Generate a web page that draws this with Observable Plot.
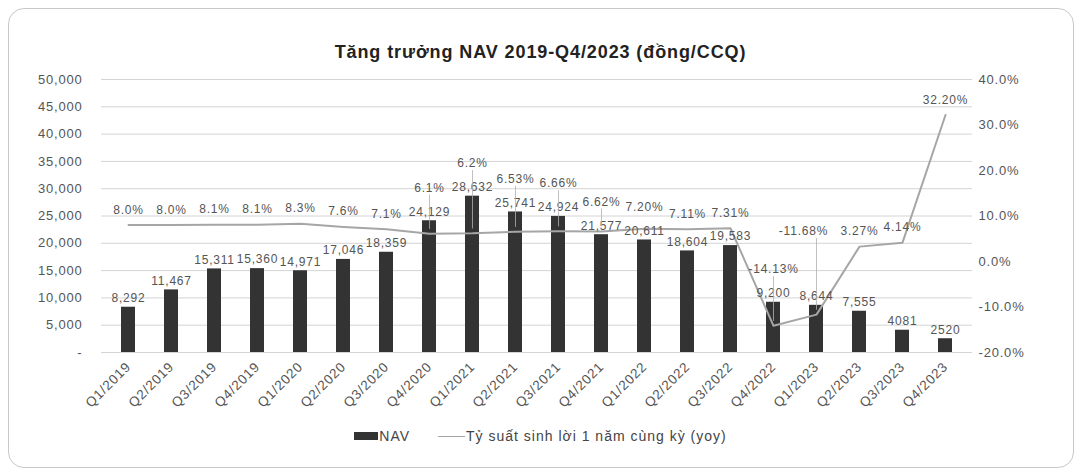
<!DOCTYPE html>
<html>
<head>
<meta charset="utf-8">
<script src="https://cdn.jsdelivr.net/npm/d3@7"></script>
<script src="https://cdn.jsdelivr.net/npm/@observablehq/plot@0.6"></script>
<style>
  body { margin: 0; background: #fff; font-family: "Liberation Sans", Arial, sans-serif; }
  #frame { position: absolute; left: 8px; top: 8px; width: 1064px; height: 458px; border: 1px solid #c8c8c8; border-radius: 16px; }
  #title { position: absolute; left: 0; top: 42px; width: 1081px; text-align: center; font-weight: bold; font-size: 18px; letter-spacing: 0.9px; color: #222; }
  #chart { position: absolute; left: 0; top: 60px; }
  #legend { position: absolute; left: 0; top: 428px; width: 1081px; display: flex; justify-content: center; align-items: center; font-size: 14px; color: #444; letter-spacing: 1px; }
  .sw-bar { display: inline-block; width: 24px; height: 8px; background: #333; margin-right: 1px; }
  .sw-line { display: inline-block; width: 27px; height: 0; border-top: 1.5px solid #a6a6a6; margin: 0 1px 0 28px; }
</style>
</head>
<body>
<div id="frame"></div>
<div id="title">Tăng trưởng NAV 2019-Q4/2023 (đồng/CCQ)</div>
<div id="chart"></div>
<div id="legend"><span class="sw-bar"></span><span>NAV</span><span class="sw-line"></span><span>Tỷ suất sinh lời 1 năm cùng kỳ (yoy)</span></div>
<script>
const quarters = ["Q1/2019","Q2/2019","Q3/2019","Q4/2019","Q1/2020","Q2/2020","Q3/2020","Q4/2020",
  "Q1/2021","Q2/2021","Q3/2021","Q4/2021","Q1/2022","Q2/2022","Q3/2022","Q4/2022",
  "Q1/2023","Q2/2023","Q3/2023","Q4/2023"];
const nav = [8292, 11467, 15311, 15360, 14971, 17046, 18359, 24129,
  28632, 25741, 24924, 21577, 20611, 18604, 19583, 9200,
  8644, 7555, 4081, 2520];
const navLabels = ["8,292","11,467","15,311","15,360","14,971","17,046","18,359","24,129",
  "28,632","25,741","24,924","21,577","20,611","18,604","19,583","9,200",
  "8,644","7,555","4081","2520"];
const yoy = [8.0, 8.0, 8.1, 8.1, 8.3, 7.6, 7.1, 6.1,
  6.2, 6.53, 6.66, 6.62, 7.20, 7.11, 7.31, -14.13,
  -11.68, 3.27, 4.14, 32.20];
const yoyLabels = ["8.0%","8.0%","8.1%","8.1%","8.3%","7.6%","7.1%","6.1%",
  "6.2%","6.53%","6.66%","6.62%","7.20%","7.11%","7.31%","-14.13%",
  "-11.68%","3.27%","4.14%","32.20%"];
const leftTicks = [0, 5000, 10000, 15000, 20000, 25000, 30000, 35000, 40000, 45000, 50000];
const rightTicks = [-20, -10, 0, 10, 20, 30, 40];

// map the right (percent) axis onto the left (NAV) scale
const yMin = -20, yMax = 40, navMax = 50000;
const toNav = v => (v - yMin) / (yMax - yMin) * navMax;
const fromNav = n => n / navMax * (yMax - yMin) + yMin;

// label placement: above the line point, and clear of the bar's own label
const data = quarters.map((q, i) => {
  const yv = toNav(yoy[i]);
  return { q, nav: nav[i], yv, navLabel: navLabels[i], yoyLabel: yoyLabels[i],
           ly: Math.max(yv + 2800, nav[i] + 6000), bumped: false };
});
// simple collision avoidance between neighbouring yoy labels
const charW = 6.6, stepPx = 43.5;
for (let i = 1; i < data.length; i++) {
  const a = data[i - 1], b = data[i];
  const hOverlap = (a.yoyLabel.length + b.yoyLabel.length) * charW / 2 > stepPx - 2;
  if (hOverlap && Math.abs(a.ly - b.ly) < 2500) { b.ly = a.ly + 7000; b.bumped = true; }
}

const font = '"Liberation Sans", Arial, sans-serif';
const chart = Plot.plot({
  width: 1081, height: 360,
  marginTop: 19, marginBottom: 68, marginLeft: 101, marginRight: 109,
  style: { fontFamily: font, fontSize: "12px", color: "#555", background: "transparent" },
  x: { domain: quarters, paddingInner: 0.68, paddingOuter: 0.34, label: null },
  y: { domain: [0, navMax], label: null },
  marks: [
    Plot.gridY(leftTicks, { stroke: "#d4d4d4", strokeOpacity: 1 }),
    Plot.barY(data, { x: "q", y: "nav", fill: "#333" }),
    Plot.line(data, { x: "q", y: "yv", stroke: "#a6a6a6", strokeWidth: 2 }),
    Plot.text(data, { x: "q", y: "nav", text: "navLabel", dy: -9, fill: "#555", fontSize: 12 }),
    Plot.ruleX(data.filter(d => d.ly - d.yv > 4500), {
      x: "q", y1: d => d.yv + 800, y2: d => d.ly - 1300, stroke: "#b0b0b0", strokeWidth: 0.8 }),
    Plot.text(data.filter(d => !d.bumped), { x: "q", y: "ly", text: "yoyLabel", fill: "#555", fontSize: 12 }),
    Plot.text(data.filter(d => d.bumped), { x: "q", y: "ly", text: "yoyLabel", fill: "#555", fontSize: 12, dx: -13 }),
    Plot.axisY(leftTicks, { anchor: "left", tickSize: 0, tickPadding: 19, fontSize: 13, fill: "#555",
      tickFormat: d => d === 0 ? "-" : d3.format(",")(d) }),
    Plot.axisY(rightTicks.map(toNav), { anchor: "right", tickSize: 0, tickPadding: 6, fontSize: 13, fill: "#555",
      tickFormat: d => { const v = Math.round(fromNav(d) * 10) / 10; return (v === 0 ? 0 : v).toFixed(1) + "%"; } }),
    Plot.axisX({ tickRotate: -45, tickSize: 0, tickPadding: 12, fontSize: 13.5, fill: "#555" })
  ]
});
chart.querySelectorAll("text").forEach(t => t.style.letterSpacing = "0.8px");
document.getElementById("chart").appendChild(chart);
</script>
</body>
</html>
